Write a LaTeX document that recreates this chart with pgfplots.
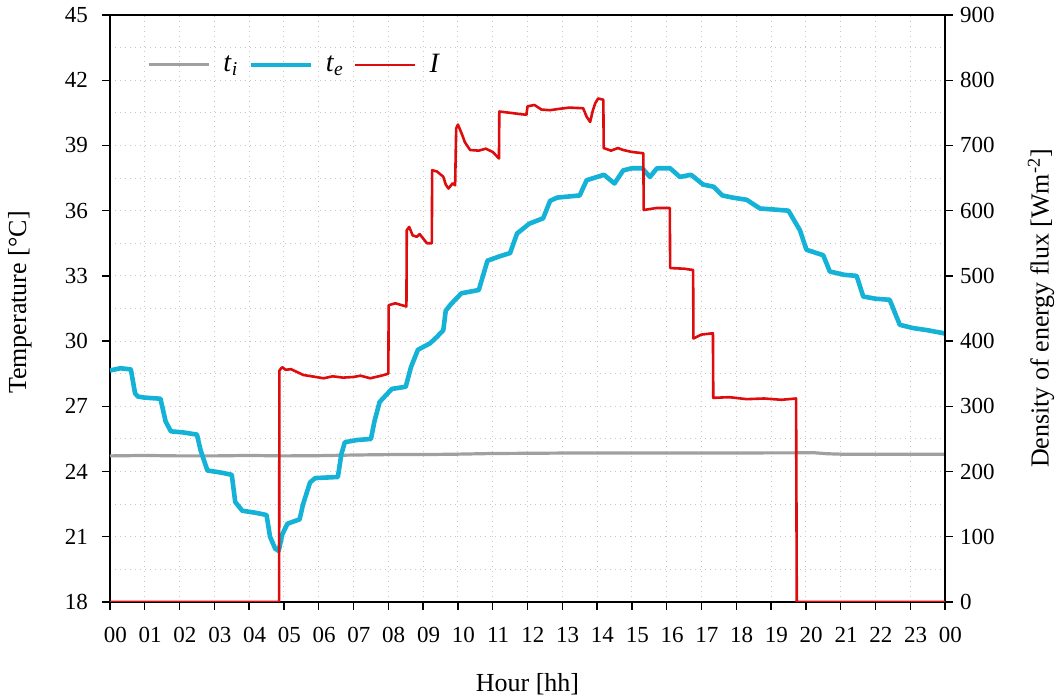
\documentclass[border=0pt]{standalone}
\usepackage{fontspec}
\setmainfont{Liberation Serif}
\usepackage{pgfplots}
\pgfplotsset{compat=1.18}
\definecolor{tigray}{RGB}{160,160,160}
\definecolor{tecyan}{RGB}{20,178,214}
\definecolor{ired}{RGB}{222,12,12}
\begin{document}
\begin{tikzpicture}
\pgfplotsset{every axis/.append style={
  scale only axis, width=417.5pt, height=293.5pt,
  xmin=0, xmax=24,
  tick align=outside, major tick length=4pt, minor tick length=0pt,
  /pgf/number format/assume math mode=true,
  tick label style={font=\fontsize{11.5}{13}\selectfont},
  label style={font=\fontsize{13}{15}\selectfont},
  axis line style={line width=0.8pt},
  every tick/.style={black, line width=0.7pt},
}}
\useasboundingbox (-55pt,-49pt) rectangle (476pt,301pt);
\begin{axis}[
  ymin=18, ymax=45, ytick={18,21,...,45}, minor y tick num=1,
  xtick={0,...,24},
  xticklabels={00,01,02,03,04,05,06,07,08,09,10,11,12,13,14,15,16,17,18,19,20,21,22,23,00},
  xtick pos=bottom, ytick pos=left,
  xticklabel style={yshift=-5pt, xshift=2.7pt},
  yticklabel style={xshift=-3.5pt},
  grid=both,
  major grid style={dash pattern=on 0.5pt off 2pt, gray!45, line width=0.5pt},
  minor grid style={dash pattern=on 0.5pt off 2pt, gray!45, line width=0.5pt},
  xlabel={Hour [hh]},
  xlabel style={at={(axis description cs:0.5,0)}, anchor=center, yshift=-41pt},
  ylabel={Temperature [°C]},
  ylabel style={at={(axis description cs:-0.108,0.51)}, anchor=center},
  legend columns=-1,
  legend style={at={(axis description cs:0.037,0.915)}, anchor=west, draw=none, fill=none,
    font=\fontsize{14}{16}\selectfont,
    /tikz/every odd column/.append style={column sep=4.5pt},
    /tikz/every even column/.append style={column sep=3pt}},
  legend image code/.code={\draw[#1] (0pt,0pt) -- (30pt,0pt);},
]
\addplot[tigray, line width=1.6pt] coordinates {
(0,24.72) (1,24.74) (2,24.72) (3,24.72) (4,24.74) (5,24.72) (6,24.73) (7,24.76) (8,24.78)
(9,24.78) (10,24.8) (11,24.83) (12,24.84) (13,24.85) (14,24.85) (15,24.85) (16,24.85)
(17,24.85) (18,24.85) (19,24.86) (19.7,24.86) (20.2,24.87) (20.6,24.82) (21,24.8) (22,24.8) (23,24.8) (24,24.8)};
\addlegendentry{\textit{t}\textsubscript{\textit{i}}}
\addplot[tecyan, line width=2.3pt, line join=round] coordinates {
(0,28.65) (0.3,28.75) (0.6,28.7) (0.72,27.6) (0.8,27.45) (1.0,27.4) (1.45,27.35) (1.6,26.3) (1.75,25.85)
(2.1,25.8) (2.5,25.7) (2.6,25.0) (2.8,24.05) (3.2,23.95) (3.5,23.85) (3.6,22.6) (3.8,22.2) (4.2,22.1) (4.5,22.0)
(4.6,21.0) (4.75,20.45) (4.85,20.35) (4.95,21.1) (5.1,21.6) (5.45,21.8) (5.55,22.5) (5.75,23.5) (5.9,23.7)
(6.55,23.75) (6.65,24.8) (6.75,25.35) (7.1,25.45) (7.5,25.5) (7.6,26.3) (7.75,27.2) (8.1,27.8) (8.5,27.9)
(8.65,28.8) (8.85,29.6) (9.2,29.9) (9.4,30.2) (9.58,30.5) (9.65,31.4) (9.8,31.7) (10.1,32.2) (10.6,32.35)
(10.85,33.7) (11.2,33.9) (11.5,34.05) (11.7,34.95) (12.05,35.4) (12.45,35.65) (12.65,36.45) (12.85,36.6)
(13.5,36.7) (13.7,37.4) (14.0,37.55) (14.2,37.65) (14.5,37.25) (14.75,37.85) (15.0,37.95) (15.3,37.95)
(15.52,37.55) (15.72,37.95) (16.1,37.95) (16.38,37.55) (16.7,37.65) (17.05,37.2) (17.35,37.1) (17.6,36.7)
(17.9,36.6) (18.3,36.5) (18.68,36.1) (19.1,36.05) (19.5,36.0) (19.83,35.1) (20.02,34.2) (20.5,33.95)
(20.69,33.2) (21.1,33.05) (21.46,33.0) (21.65,32.05) (22.0,31.95) (22.41,31.9) (22.7,30.75) (23.08,30.6)
(23.5,30.5) (24,30.35)};
\addlegendentry{\textit{t}\textsubscript{\textit{e}}}
\addlegendimage{ired, line width=1.3pt}
\addlegendentry{\textit{I}}
\end{axis}
\begin{axis}[
  axis x line=none, axis y line*=right,
  ymin=0, ymax=900, ytick={0,100,...,900},
  ylabel={Density of energy flux [Wm\textsuperscript{-2}]},
  ylabel style={at={(axis description cs:1.115,0.5)}, anchor=center},
]
\addplot[ired, line width=1.3pt, line join=round] coordinates {
(0,0) (4.86,0) (4.87,355) (4.95,360) (5.05,356) (5.2,357) (5.4,352) (5.56,348) (5.8,346) (6.14,343)
(6.4,346) (6.7,344) (7.0,345) (7.2,347) (7.48,343) (7.8,347) (8.0,350) (8.01,455) (8.2,458) (8.52,453)
(8.53,570) (8.6,575) (8.7,562) (8.82,560) (8.9,564) (9.11,550) (9.25,550) (9.26,662) (9.4,660) (9.58,652)
(9.65,640) (9.73,634) (9.85,642) (9.92,639) (9.95,726) (10.0,732) (10.11,718) (10.2,705) (10.35,693)
(10.6,692) (10.8,695) (11.0,690) (11.18,680) (11.19,752) (11.5,750) (11.8,748) (11.97,747) (12.0,760)
(12.2,762) (12.4,755) (12.64,754) (12.9,756) (13.2,758) (13.6,757) (13.7,744) (13.8,736) (13.88,754)
(13.95,765) (14.03,772) (14.18,770) (14.19,696) (14.4,692) (14.6,696) (14.75,693) (15.0,690) (15.33,688)
(15.34,601) (15.7,604) (16.09,604) (16.1,512) (16.5,511) (16.76,509) (16.77,404) (17.0,410) (17.33,412)
(17.34,313) (17.8,314) (18.3,311) (18.8,312) (19.3,310) (19.72,312) (19.74,0) (24,0)};
\end{axis}
\end{tikzpicture}
\end{document}
